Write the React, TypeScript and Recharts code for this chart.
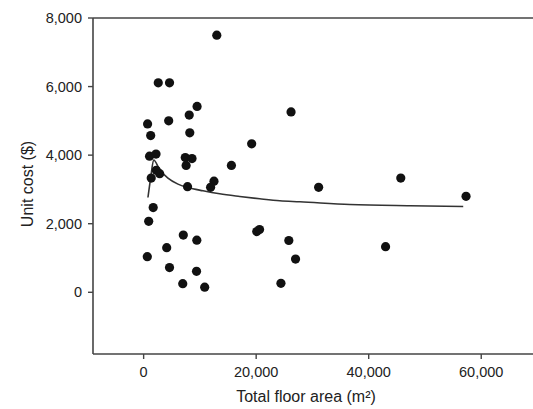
import React from "react";
import {
  ComposedChart,
  XAxis,
  YAxis,
  Scatter,
  Line,
  ReferenceLine,
  Label,
} from "recharts";

// Observed projects: total floor area (m²) and unit cost ($)
const areaValues = [
  13000, 2600, 4600, 9500, 8100, 700, 4450, 1250, 8200, 19200, 26200, 1050,
  2200, 7400, 8600, 7550, 15600, 2250, 2850, 1350, 7800, 12500, 11900, 31100,
  45700, 57300, 1700, 900, 7050, 9450, 4100, 20100, 20600, 25800, 27000, 43000,
  650, 4600, 9400, 6950, 10850, 24400,
];
const costValues = [
  7500, 6110, 6110, 5420, 5170, 4910, 5000, 4570, 4650, 4330, 5260, 3970, 4030,
  3930, 3900, 3700, 3700, 3560, 3460, 3330, 3080, 3240, 3060, 3060, 3330, 2800,
  2470, 2070, 1670, 1520, 1300, 1770, 1830, 1510, 970, 1330, 1040, 720, 610,
  250, 150, 260,
];

// Fitted curve
const curveArea = [
  765, 1245, 1780, 2850, 4320, 6100, 7880, 10550, 13520, 17080, 20640, 24200,
  27750, 36650, 47320, 56800,
];
const curveCost = [
  2765, 3330, 3860, 3575, 3330, 3155, 3055, 2960, 2872, 2795, 2727, 2668, 2640,
  2560, 2523, 2503,
];

const xTicks = [0, 20000, 40000, 60000];
const yTicks = [0, 2000, 4000, 6000, 8000];

const points = areaValues.map((x, i) => ({ x, y: costValues[i] }));
const curve = curveArea.map((x, i) => ({ x, y: curveCost[i] }));

const FONT = "'Liberation Sans', Arial, Helvetica, sans-serif";
const AXIS = "#444";
const fmt = (v: number) => v.toLocaleString("en-US");

const Dot = (props: any) => {
  const { cx, cy } = props;
  if (cx == null || cy == null) return null;
  return <circle cx={cx} cy={cy} r={4.6} fill="#111" />;
};

export default function App() {
  return (
    <div style={{ position: "absolute", left: 0, top: 0 }}>
      <ComposedChart
        width={533}
        height={409}
        margin={{ top: 18, right: 0, bottom: 0, left: 0 }}
        style={{ fontFamily: FONT }}
      >
        <XAxis
          type="number"
          dataKey="x"
          domain={[-9000, 69200]}
          ticks={xTicks}
          tickFormatter={fmt}
          height={55}
          tickSize={5}
          tickMargin={8}
          axisLine={{ stroke: AXIS, strokeWidth: 1.6 }}
          tickLine={{ stroke: AXIS, strokeWidth: 1.4 }}
          tick={{ fill: "#222", fontSize: 14.5, fontFamily: FONT }}
          allowDataOverflow
        >
          <Label
            content={() => (
              <text
                x={306}
                y={402}
                textAnchor="middle"
                fill="#222"
                fontSize={16}
                fontFamily={FONT}
              >
                Total floor area (m²)
              </text>
            )}
          />
        </XAxis>
        <YAxis
          type="number"
          dataKey="y"
          domain={[-1800, 8000]}
          ticks={yTicks}
          tickFormatter={fmt}
          width={93}
          tickSize={5}
          tickMargin={6}
          axisLine={{ stroke: AXIS, strokeWidth: 1.6 }}
          tickLine={{ stroke: AXIS, strokeWidth: 1.4 }}
          tick={{ fill: "#222", fontSize: 14.5, fontFamily: FONT }}
          allowDataOverflow
        >
          <Label
            content={() => (
              <text
                x={33}
                y={184}
                textAnchor="middle"
                fill="#222"
                fontSize={16}
                fontFamily={FONT}
                transform="rotate(-90 33 184)"
              >
                Unit cost ($)
              </text>
            )}
          />
        </YAxis>
        <ReferenceLine y={8000} stroke={AXIS} strokeWidth={1.6} />
        <Line
          data={curve}
          dataKey="y"
          type="monotone"
          stroke="#333"
          strokeWidth={1.6}
          dot={false}
          activeDot={false}
          isAnimationActive={false}
        />
        <Scatter
          data={points}
          dataKey="y"
          shape={Dot}
          isAnimationActive={false}
        />
      </ComposedChart>
    </div>
  );
}
